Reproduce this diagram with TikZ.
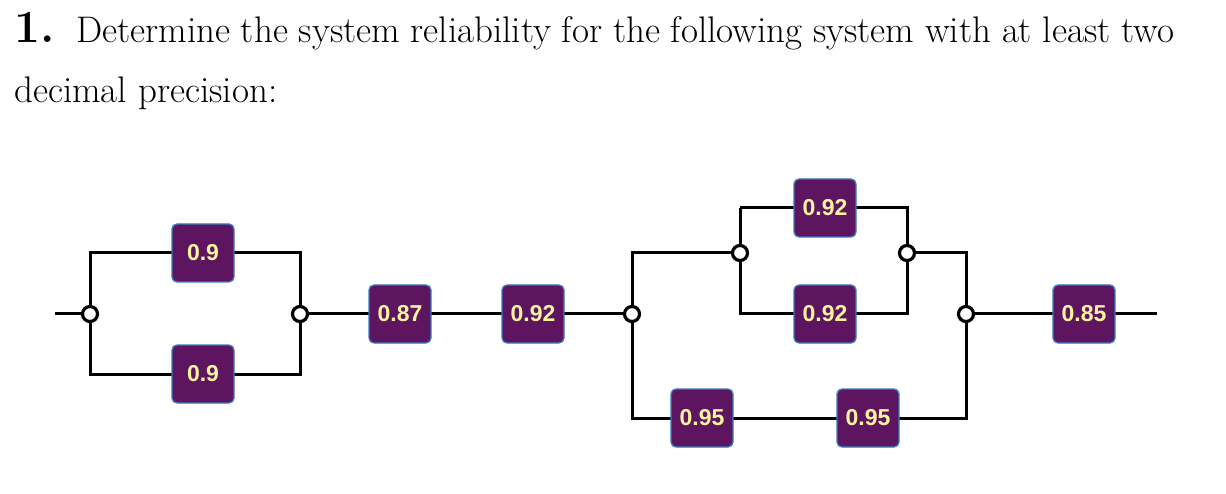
\documentclass[tikz,border=0pt]{standalone}
\usepackage{fontspec}
\newfontfamily\boxfont{Liberation Sans}
\definecolor{boxfill}{HTML}{5E1560}
\definecolor{boxedge}{HTML}{3A7BC0}
\definecolor{boxtext}{HTML}{FFF59D}
\tikzset{
 comp/.style={draw=boxedge, line width=1.3pt, fill=boxfill, rounded corners=5pt, minimum width=62pt, minimum height=58pt, text=boxtext, font=\boxfont\bfseries\fontsize{23}{23}\selectfont, inner sep=0pt},
 junc/.style={circle, draw=black, line width=3.2pt, fill=white, minimum size=15pt, inner sep=0pt},
 wire/.style={line width=3pt, black}
}
\begin{document}
\begin{tikzpicture}[x=1pt,y=-1pt]
\useasboundingbox (0,0) rectangle (1226,494);
\node[anchor=north west, text width=1160pt, align=justify, inner sep=0pt, font=\fontsize{37}{60}\selectfont] (title) at (14,12)
 {{\bfseries\fontsize{46}{60}\selectfont 1.}\ \ Determine the system reliability for the following system with at least two decimal precision:};
% coordinates
\coordinate (s) at (55,314);
\coordinate (e) at (1157,314);
\coordinate (a1) at (90,253); \coordinate (a2) at (90,374);
\coordinate (b1) at (300,253); \coordinate (b2) at (300,374);
\coordinate (c1) at (632,253); \coordinate (c2) at (632,418);
\coordinate (d1) at (740,208); \coordinate (d2) at (740,314);
\coordinate (f1) at (907,208); \coordinate (f2) at (907,314);
\coordinate (g1) at (966,253); \coordinate (g2) at (966,418);
% wires
\draw[wire] (s) -- (a1 |- s) -- (a1) -- (b1) -- (b2) -- (a2) -- (a1 |- s);
\draw[wire] (b1 |- s) -- (c1 |- s) -- (c1) -- (d1 |- c1);
\draw[wire] (c1 |- s) -- (c2) -- (g2) -- (g1) -- (f1 |- g1);
\draw[wire] (d1) -- (f1) -- (f2) -- (d2) -- (d1);
\draw[wire] (g1 |- e) -- (e);
% components
\node[comp] (p1) at (203,253) {0.9};
\node[comp] (p2) at (203,374) {0.9};
\node[comp] (p3) at (400,314) {0.87};
\node[comp] (p4) at (533,314) {0.92};
\node[comp] (p5) at (825,208) {0.92};
\node[comp] (p6) at (825,314) {0.92};
\node[comp] (p7) at (702,418) {0.95};
\node[comp] (p8) at (868,418) {0.95};
\node[comp] (p9) at (1084,314) {0.85};
% junctions
\node[junc] (j1) at (90,314) {};
\node[junc] (j2) at (300,314) {};
\node[junc] (j3) at (632,314) {};
\node[junc] (j4) at (740,253) {};
\node[junc] (j5) at (907,253) {};
\node[junc] (j6) at (966,314) {};
\end{tikzpicture}
\end{document}
